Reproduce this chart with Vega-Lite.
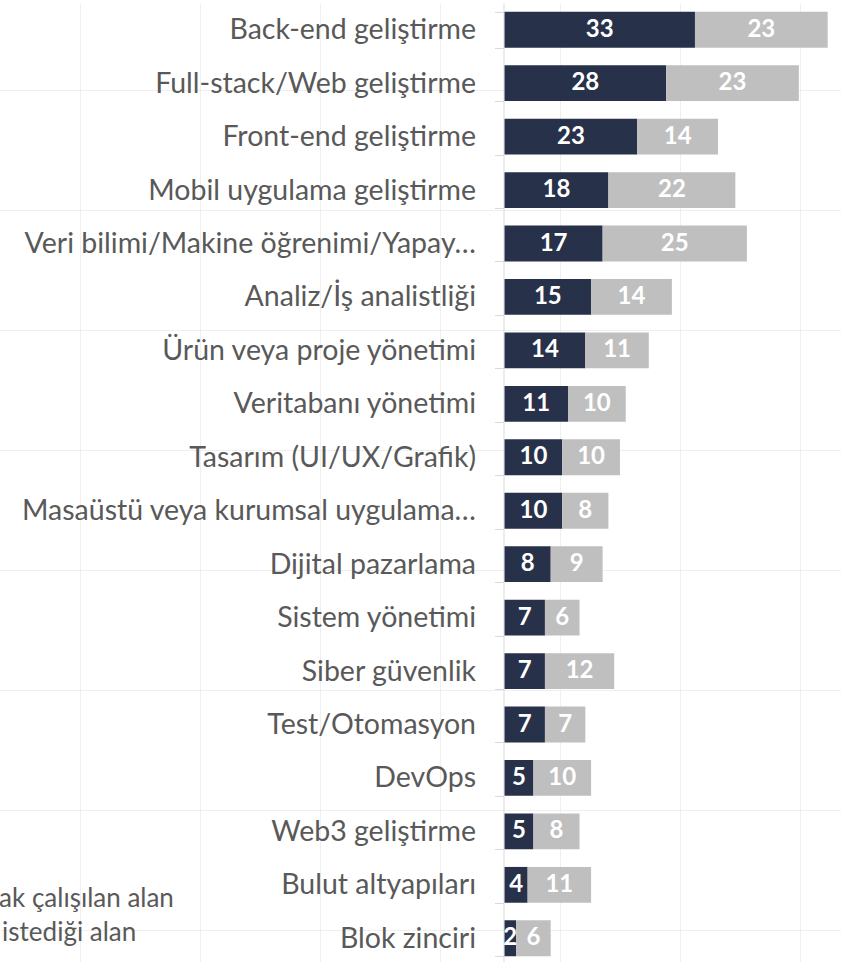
{
  "$schema": "https://vega.github.io/schema/vega-lite/v6.json",
  "autosize": {"type": "none"},
  "width": 841,
  "height": 962,
  "padding": {"left": 0, "top": 3, "right": 0, "bottom": 0},
  "background": "white",
  "config": {"view": {"stroke": null}},
  "data": {
    "values": [
      {"cat": "Back-end geliştirme", "s": "Aktif olarak çalışılan alan", "k": 1, "v": 33},
      {"cat": "Back-end geliştirme", "s": "Çalışmak istediği alan", "k": 2, "v": 23},
      {"cat": "Full-stack/Web geliştirme", "s": "Aktif olarak çalışılan alan", "k": 1, "v": 28},
      {"cat": "Full-stack/Web geliştirme", "s": "Çalışmak istediği alan", "k": 2, "v": 23},
      {"cat": "Front-end geliştirme", "s": "Aktif olarak çalışılan alan", "k": 1, "v": 23},
      {"cat": "Front-end geliştirme", "s": "Çalışmak istediği alan", "k": 2, "v": 14},
      {"cat": "Mobil uygulama geliştirme", "s": "Aktif olarak çalışılan alan", "k": 1, "v": 18},
      {"cat": "Mobil uygulama geliştirme", "s": "Çalışmak istediği alan", "k": 2, "v": 22},
      {"cat": "Veri bilimi/Makine öğrenimi/Yapay…", "s": "Aktif olarak çalışılan alan", "k": 1, "v": 17},
      {"cat": "Veri bilimi/Makine öğrenimi/Yapay…", "s": "Çalışmak istediği alan", "k": 2, "v": 25},
      {"cat": "Analiz/İş analistliği", "s": "Aktif olarak çalışılan alan", "k": 1, "v": 15},
      {"cat": "Analiz/İş analistliği", "s": "Çalışmak istediği alan", "k": 2, "v": 14},
      {"cat": "Ürün veya proje yönetimi", "s": "Aktif olarak çalışılan alan", "k": 1, "v": 14},
      {"cat": "Ürün veya proje yönetimi", "s": "Çalışmak istediği alan", "k": 2, "v": 11},
      {"cat": "Veritabanı yönetimi", "s": "Aktif olarak çalışılan alan", "k": 1, "v": 11},
      {"cat": "Veritabanı yönetimi", "s": "Çalışmak istediği alan", "k": 2, "v": 10},
      {"cat": "Tasarım (UI/UX/Grafik)", "s": "Aktif olarak çalışılan alan", "k": 1, "v": 10},
      {"cat": "Tasarım (UI/UX/Grafik)", "s": "Çalışmak istediği alan", "k": 2, "v": 10},
      {"cat": "Masaüstü veya kurumsal uygulama…", "s": "Aktif olarak çalışılan alan", "k": 1, "v": 10},
      {"cat": "Masaüstü veya kurumsal uygulama…", "s": "Çalışmak istediği alan", "k": 2, "v": 8},
      {"cat": "Dijital pazarlama", "s": "Aktif olarak çalışılan alan", "k": 1, "v": 8},
      {"cat": "Dijital pazarlama", "s": "Çalışmak istediği alan", "k": 2, "v": 9},
      {"cat": "Sistem yönetimi", "s": "Aktif olarak çalışılan alan", "k": 1, "v": 7},
      {"cat": "Sistem yönetimi", "s": "Çalışmak istediği alan", "k": 2, "v": 6},
      {"cat": "Siber güvenlik", "s": "Aktif olarak çalışılan alan", "k": 1, "v": 7},
      {"cat": "Siber güvenlik", "s": "Çalışmak istediği alan", "k": 2, "v": 12},
      {"cat": "Test/Otomasyon", "s": "Aktif olarak çalışılan alan", "k": 1, "v": 7},
      {"cat": "Test/Otomasyon", "s": "Çalışmak istediği alan", "k": 2, "v": 7},
      {"cat": "DevOps", "s": "Aktif olarak çalışılan alan", "k": 1, "v": 5},
      {"cat": "DevOps", "s": "Çalışmak istediği alan", "k": 2, "v": 10},
      {"cat": "Web3 geliştirme", "s": "Aktif olarak çalışılan alan", "k": 1, "v": 5},
      {"cat": "Web3 geliştirme", "s": "Çalışmak istediği alan", "k": 2, "v": 8},
      {"cat": "Bulut altyapıları", "s": "Aktif olarak çalışılan alan", "k": 1, "v": 4},
      {"cat": "Bulut altyapıları", "s": "Çalışmak istediği alan", "k": 2, "v": 11},
      {"cat": "Blok zinciri", "s": "Aktif olarak çalışılan alan", "k": 1, "v": 2},
      {"cat": "Blok zinciri", "s": "Çalışmak istediği alan", "k": 2, "v": 6}
    ]
  },
  "resolve": {"scale": {"x": "independent", "y": "independent"}, "axis": {"x": "independent", "y": "independent"}},
  "layer": [
    {
      "mark": {"type": "point", "opacity": 0},
      "encoding": {
        "x": {"datum": 0, "type": "quantitative",
          "scale": {"domain": [0, 841], "nice": false, "zero": false},
          "axis": {"orient": "top", "values": [80, 200, 320, 440, 560, 680, 800], "labels": false, "ticks": false, "domain": false, "grid": true, "gridColor": "#efefef", "gridWidth": 1, "title": null}},
        "y": {"datum": 3, "type": "quantitative",
          "scale": {"domain": [965, 3], "nice": false, "zero": false},
          "axis": {"orient": "right", "values": [90, 210, 330, 450, 570, 690, 810, 930], "labels": false, "ticks": false, "domain": false, "grid": true, "gridColor": "#efefef", "gridWidth": 1, "title": null}}
      }
    },
    {
      "layer": [
        {
          "mark": {"type": "bar"},
          "encoding": {
            "y": {"field": "cat", "type": "nominal", "sort": null,
              "scale": {"paddingInner": 0.33, "paddingOuter": 0.165},
              "axis": {"orient": "left", "offset": -503.5, "title": null, "tickBand": "extent", "tickSize": 9, "tickColor": "#d9d9d9", "domainColor": "#d9d9d9", "labelPadding": 19, "labelFont": "Lato", "labelFontSize": 28.5, "labelColor": "#595959", "labelLimit": 700, "grid": false}},
            "x": {"field": "v", "type": "quantitative", "stack": "zero",
              "scale": {"domain": [-87.44, 58.31], "nice": false, "zero": false},
              "axis": null},
            "order": {"field": "k"},
            "color": {"field": "s", "type": "nominal",
              "scale": {"domain": ["Aktif olarak çalışılan alan", "Çalışmak istediği alan"], "range": ["#28314a", "#bfbfbf"]},
              "legend": {"title": null, "orient": "none", "legendX": -136, "legendY": 883, "direction": "vertical", "symbolType": "square", "symbolSize": 150, "symbolStrokeWidth": 0, "labelFont": "Lato", "labelFontSize": 26, "labelColor": "#595959", "rowPadding": 8, "labelLimit": 600, "padding": 0}}
          }
        },
        {
          "transform": [
            {"stack": "v", "groupby": ["cat"], "sort": [{"field": "k"}], "as": ["v0", "v1"]},
            {"calculate": "(datum.v0 + datum.v1) / 2", "as": "mid"}
          ],
          "mark": {"type": "text", "color": "white", "font": "Lato", "fontWeight": "bold", "fontSize": 24, "baseline": "middle", "align": "center"},
          "encoding": {
            "y": {"field": "cat", "type": "nominal", "sort": null},
            "x": {"field": "mid", "type": "quantitative"},
            "text": {"field": "v", "type": "quantitative"}
          }
        }
      ]
    }
  ]
}
